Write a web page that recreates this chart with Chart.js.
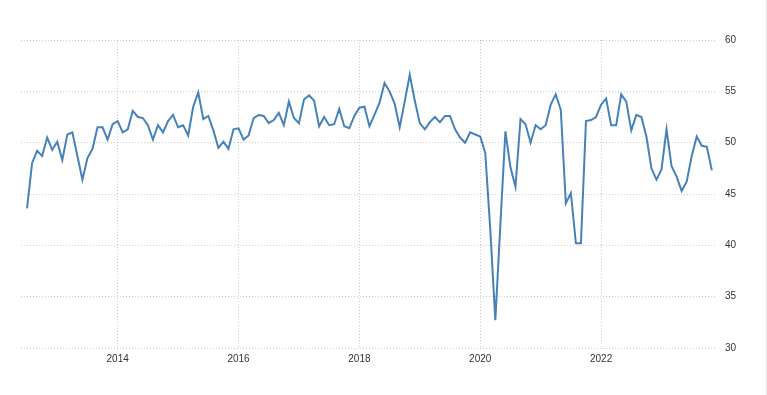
<!DOCTYPE html>
<html>
<head>
<meta charset="utf-8">
<script src="https://cdn.jsdelivr.net/npm/chart.js@4/dist/chart.umd.min.js"></script>
<style>
html, body { margin: 0; padding: 0; background: #fff; }
#wrap { position: relative; width: 766px; height: 395px; border-right: 1px solid #e2e2e2; }
</style>
</head>
<body>
<div id="wrap"><canvas id="graph1" width="766" height="395"></canvas></div>
<script>
// monthly readings, Jul 2012 .. Nov 2023
var startYear = 2012;
var startMonth = 7;
var values = [
    43.6, 48.0, 49.2, 48.7, 50.5, 49.3,
    50.1, 48.3, 50.8, 51.0, 48.7, 46.4, 48.5, 49.4, 51.5, 51.5, 50.3, 51.8,
    52.1, 51.0, 51.3, 53.1, 52.5, 52.4, 51.7, 50.3, 51.7, 51.0, 52.1, 52.7,
    51.5, 51.7, 50.7, 53.5, 54.9, 52.3, 52.6, 51.2, 49.5, 50.1, 49.4, 51.3,
    51.4, 50.3, 50.7, 52.4, 52.7, 52.6, 51.9, 52.2, 52.9, 51.7, 54.0, 52.4,
    51.9, 54.2, 54.6, 54.1, 51.6, 52.5, 51.7, 51.8, 53.3, 51.6, 51.4, 52.6,
    53.4, 53.5, 51.6, 52.7, 53.9, 55.8, 55.0, 53.8, 51.5, 54.0, 56.6, 54.1,
    51.9, 51.3, 52.0, 52.5, 52.0, 52.6, 52.6, 51.3, 50.5, 50.0, 51.0, 50.8,
    50.6, 49.0, 41.5, 32.7, 42.0, 51.1, 47.6, 45.7, 52.3, 51.8, 50.0, 51.7,
    51.3, 51.7, 53.7, 54.7, 53.2, 44.1, 45.1, 40.2, 40.2, 52.1, 52.2, 52.5,
    53.7, 54.3, 51.7, 51.7, 54.7, 54.0, 51.2, 52.7, 52.5, 50.6, 47.5, 46.4,
    47.4, 51.3, 47.7, 46.7, 45.3, 46.2, 48.7, 50.6, 49.7, 49.6, 47.3
];
var tickYears = [2014, 2016, 2018, 2020, 2022];
var yTicks = [30, 35, 40, 45, 50, 55, 60];

// month index counted from Jan 2014
var baseYear = 2014;
var points = [];
for (var i = 0; i < values.length; i++) {
    var m = (startYear - baseYear) * 12 + (startMonth - 1) + i;
    points.push({x: m, y: values[i]});
}

var gridColor = 'rgba(0,0,0,0.2)';
var tickFont = {family: "'Liberation Sans', Arial, sans-serif", size: 10};

var data = {
    datasets: [{
        label: 'value',
        data: points,
        borderColor: 'rgb(70,130,185)',
        backgroundColor: 'rgb(70,130,185)',
        borderWidth: 2,
        pointRadius: 0,
        tension: 0,
        fill: false
    }]
};

var options = {
    responsive: false,
    animation: false,
    layout: {padding: {left: 21, right: 20, top: 40, bottom: 25}},
    plugins: {legend: {display: false}, tooltip: {enabled: false}},
    scales: {
        x: {
            type: 'linear',
            min: -19.2,
            max: 118.6,
            afterBuildTicks: function(axis) {
                axis.ticks = tickYears.map(function(y) { return {value: (y - baseYear) * 12}; });
            },
            ticks: {
                color: '#333',
                font: tickFont,
                padding: 5,
                maxRotation: 0,
                callback: function(v) { return String(baseYear + v / 12); }
            },
            grid: {color: gridColor, drawTicks: false},
            border: {display: false, dash: [1, 2]}
        },
        y: {
            position: 'right',
            min: 30,
            max: 60,
            afterBuildTicks: function(axis) {
                axis.ticks = yTicks.map(function(v) { return {value: v}; });
            },
            ticks: {color: '#333', font: tickFont, padding: 10},
            grid: {color: gridColor, drawTicks: false},
            border: {display: false, dash: [1, 2]}
        }
    }
};

var config = {
    type: 'line',
    data: data,
    options: options
};

var graph1 = new Chart(document.getElementById('graph1'), config);
</script>
</body>
</html>
